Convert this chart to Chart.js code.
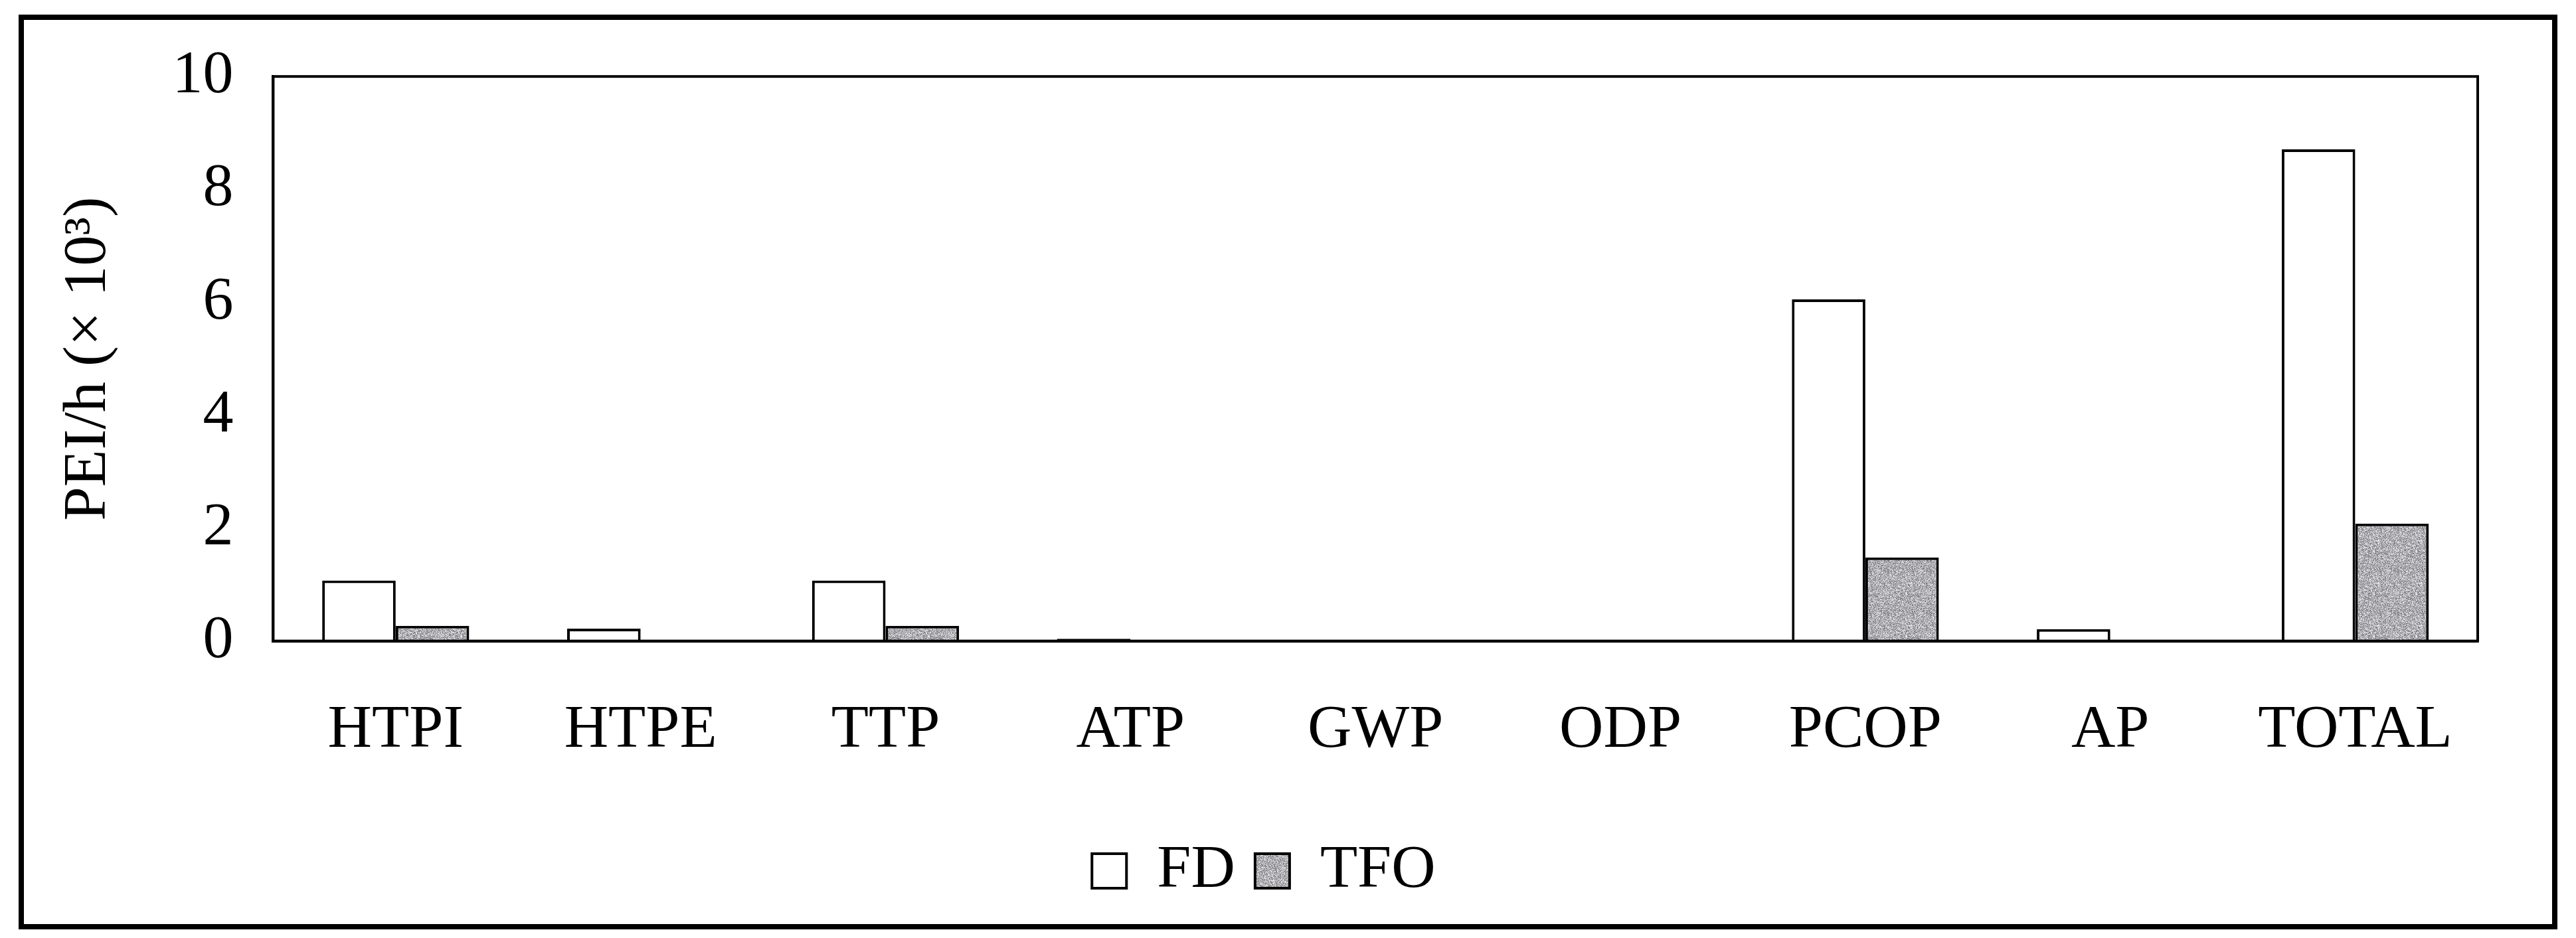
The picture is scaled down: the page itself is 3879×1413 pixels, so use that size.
<!DOCTYPE html>
<html><head><meta charset="utf-8">
<script src="https://cdn.jsdelivr.net/npm/chart.js@4"></script>
<style>html,body{margin:0;padding:0;background:#fff}#w{width:3879px;height:1413px}</style>
</head><body><div id="w"><canvas id="c"></canvas></div>
<script>
const categories = ['HTPI','HTPE','TTP','ATP','GWP','ODP','PCOP','AP','TOTAL'];
const fdValues  = [1.07, 0.22, 1.07, 0.04, 0.02, 0.0, 6.05, 0.21, 8.71];
const tfoValues = [0.27, 0.02, 0.27, 0.01, 0.0, 0.0, 1.48, 0.0, 2.08];
const yTicks = [0,2,4,6,8,10];

function makeNoise(){
  const c = document.createElement('canvas'); c.width = 64; c.height = 64;
  const x = c.getContext('2d'); const img = x.createImageData(64,64);
  let s = 12345;
  for (let i=0;i<64*64;i++){ s = (s*1103515245+12345) & 0x7fffffff;
    const v = 110 + (s % 130); img.data[i*4]=v; img.data[i*4+1]=v; img.data[i*4+2]=v+4; img.data[i*4+3]=255; }
  x.putImageData(img,0,0);
  return x.createPattern(c,'repeat');
}
const noise = makeNoise();
const FONT = "'Liberation Serif','DejaVu Serif',serif";

const frame = { id:'frame', afterDraw(ch){
  const g = ch.ctx, a = ch.chartArea;
  g.save(); g.strokeStyle='#000';
  g.lineWidth = 4; g.strokeRect(a.left, a.top, a.right-a.left, a.bottom-a.top);
  g.lineWidth = 8; g.strokeRect(32, 26, 3815, 1370);
  g.restore();
}};

new Chart(document.getElementById('c'), {
  type:'bar',
  data:{ labels: categories, datasets:[
    {label:'FD', data: fdValues, backgroundColor:'#fff', borderColor:'#000', borderWidth:4, categoryPercentage:0.6, barPercentage:1},
    {label:'TFO', data: tfoValues, backgroundColor: noise, borderColor:'#000', borderWidth:4, categoryPercentage:0.6, barPercentage:1}
  ]},
  plugins:[frame],
  options:{
    responsive:true, maintainAspectRatio:false, animation:false, devicePixelRatio:1,
    layout:{padding:{left:75, right:148, top:99, bottom:45}},
    plugins:{
      tooltip:{enabled:false},
      legend:{position:'bottom', labels:{font:{family:FONT,size:92}, color:'#000', boxWidth:52, boxHeight:52, padding:30}}
    },
    scales:{
      x:{ grid:{display:false, drawTicks:false}, border:{color:'#000', width:4},
          ticks:{font:{family:FONT,size:92}, color:'#000', padding:80} },
      y:{ min:0, max:10, grid:{display:false, drawTicks:false}, border:{color:'#000', width:4},
          afterBuildTicks(ax){ ax.ticks = yTicks.map(v=>({value:v})); },
          ticks:{font:{family:FONT,size:92}, color:'#000', padding:60},
          title:{display:true, text:'PEI/h (× 10³)', font:{family:FONT,size:92}, color:'#000', padding:{bottom:10}} }
    }
  }
});
</script></body></html>
